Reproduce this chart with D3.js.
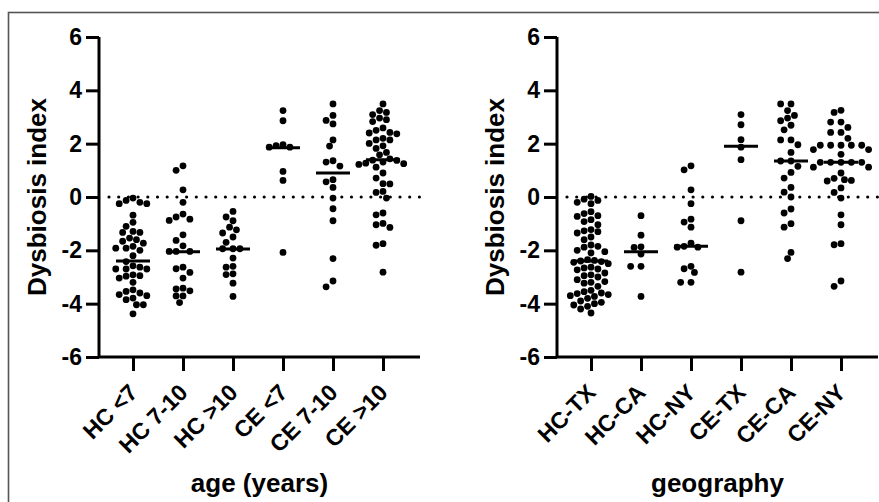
<!DOCTYPE html>
<html lang="en">
<head>
    <meta charset="UTF-8">
    <title>Dysbiosis index</title>
    <style>
        body { margin: 0; background: #fff; }
        svg { display: block; }
        text { font-family: "Liberation Sans", Arial, sans-serif; font-weight: bold; fill: #000; }
    </style>
</head>
<body>
    <div id="chart"></div>
    <script src="https://d3js.org/d3.v7.min.js"></script>
    <script>
        // values, one array per group
        const ageCats = ["HC <7", "HC 7-10", "HC >10", "CE <7", "CE 7-10", "CE >10"];
        const hcUnder7 = [-0.04, -0.25, -0.13, -0.2, -0.25, -0.68, -0.95, -1.1, -1.29, -1.33, -1.33, -1.54, -1.66, -1.6, -1.73, -1.92, -1.92, -1.85, -2.0, -2.2, -2.42, -2.58, -2.7, -2.7, -2.7, -2.63, -2.97, -2.95, -3.04, -2.92, -3.2, -3.48, -3.6, -3.54, -3.7, -3.66, -3.85, -3.79, -4.04, -4.04, -4.38];
        const hc7to10 = [1.17, 1.0, 0.27, -0.2, -0.64, -0.75, -0.83, -0.88, -1.42, -1.63, -1.83, -2.04, -2.04, -2.04, -2.63, -2.69, -2.83, -3.04, -3.42, -3.52, -3.45, -3.71, -3.71, -3.96];
        const hcOver10 = [-0.54, -0.75, -0.89, -1.13, -1.23, -1.35, -1.5, -1.7, -1.94, -1.94, -1.94, -2.29, -2.6, -2.63, -2.88, -2.91, -3.23, -3.73];
        const ceUnder7 = [3.24, 2.86, 1.96, 1.87, 1.93, 1.87, 0.96, 0.62, -2.08];
        const ce7to10 = [3.49, 3.06, 2.74, 2.87, 2.14, 1.91, 1.31, 1.36, 1.16, 0.57, 0.65, 0.36, -0.04, -0.44, -0.89, -2.31, -3.37, -3.15];
        const ceOver10 = [3.49, 3.24, 3.17, 3.09, 2.96, 2.9, 2.83, 2.59, 2.5, 2.42, 2.4, 2.37, 2.2, 2.14, 2.14, 2.01, 1.92, 1.82, 1.67, 1.58, 1.43, 1.38, 1.37, 1.31, 1.27, 1.25, 1.22, 1.12, 0.9, 0.71, 0.5, 0.49, 0.21, 0.17, -0.04, -0.6, -0.67, -0.99, -1.04, -1.14, -1.75, -1.81, -2.82];
        const ageMedians = [-2.4, -2.05, -1.95, 1.85, 0.9, 1.4];

        const geoCats = ["HC-TX", "HC-CA", "HC-NY", "CE-TX", "CE-CA", "CE-NY"];
        const hcTX = [0.02, -0.08, -0.13, -0.2, -0.25, -0.55, -0.62, -0.7, -0.73, -0.85, -0.92, -1.04, -1.22, -1.27, -1.3, -1.35, -1.5, -1.6, -1.8, -1.85, -1.88, -2.0, -2.05, -2.1, -2.35, -2.38, -2.4, -2.42, -2.45, -2.5, -2.63, -2.66, -2.7, -2.73, -2.85, -2.92, -2.95, -3.0, -3.1, -3.17, -3.2, -3.23, -3.35, -3.5, -3.55, -3.6, -3.62, -3.66, -3.7, -3.73, -3.8, -3.9, -3.95, -4.0, -4.05, -4.1, -4.2, -4.35];
        const hcCA = [-0.7, -1.43, -1.89, -1.87, -2.14, -2.6, -2.6, -3.73];
        const hcNY = [1.17, 1.02, 0.27, -0.25, -0.83, -0.94, -1.13, -1.73, -1.85, -1.88, -1.88, -2.6, -2.69, -2.83, -3.2, -3.2];
        const ceTX = [3.09, 2.71, 2.15, 1.87, 1.4, -0.89, -2.82];
        const ceCA = [3.49, 3.49, 3.24, 3.06, 2.96, 2.69, 2.86, 2.52, 2.14, 2.14, 1.96, 1.67, 1.35, 1.35, 1.15, 0.92, 0.71, 0.36, 0.18, 0, -0.45, -0.6, -1.0, -1.13, -2.08, -2.31];
        const ceNY = [3.25, 3.17, 2.81, 2.81, 2.61, 2.42, 2.42, 2.2, 1.94, 1.94, 1.94, 1.94, 1.94, 1.78, 1.78, 1.6, 1.3, 1.3, 1.3, 1.3, 1.3, 1.12, 1.12, 0.9, 0.7, 0.6, 0.65, 0.62, 0.34, 0.17, -0.04, -0.67, -1.04, -1.79, -1.75, -3.35, -3.15];
        const geoMedians = [-2.4, -2.05, -1.85, 1.9, 1.35, 1.3];

        const yTicks = [-6, -4, -2, 0, 2, 4, 6];

        const width = 879, height = 502;
        const svg = d3.select("#chart").append("svg")
            .attr("width", width)
            .attr("height", height);

        // outer frame (runs off the right and bottom edges)
        svg.append("rect")
            .attr("x", 8.5).attr("y", 12.5)
            .attr("width", 1000).attr("height", 1000)
            .attr("fill", "none")
            .attr("stroke", "#555")
            .attr("stroke-width", 1.6);

        const y = d3.scaleLinear().domain([-6, 6]).range([357, 37]);
        const r = 3.4;

        // simple beeswarm, offsets in half-diameter steps
        function swarm(vals, cx) {
            const d = 2 * r + 0.1;
            const placed = [];
            vals.slice().sort((a, b) => b - a).forEach(v => {
                const py = y(v);
                for (let k = 0; k < 40; k++) {
                    const off = (k % 2 === 0 ? 1 : -1) * Math.ceil(k / 2) * d / 2;
                    const px = cx + off;
                    const hit = placed.some(p => (p.x - px) ** 2 + (p.y - py) ** 2 < d * d);
                    if (!hit) { placed.push({ x: px, y: py }); break; }
                }
            });
            return placed;
        }

        function drawPanel(x0, cats, groups, medians, title) {
            const x1 = x0 + 321;
            const x = d3.scalePoint().domain(cats).range([x0 + 34, x0 + 284]);
            const g = svg.append("g");

            // zero reference line
            g.append("line")
                .attr("x1", x0 + 10).attr("x2", x1)
                .attr("y1", y(0)).attr("y2", y(0))
                .attr("stroke", "#000")
                .attr("stroke-width", 3.2)
                .attr("stroke-linecap", "round")
                .attr("stroke-dasharray", "0 9.7");

            // y axis
            const yAxis = g.append("g")
                .attr("transform", `translate(${x0},0)`)
                .call(d3.axisLeft(y).tickValues(yTicks).tickSize(13).tickPadding(4).tickFormat(d => String(d)));
            yAxis.select(".domain").attr("d", `M0,${y(6)}V${y(-6)}`);

            // x axis
            const xAxis = g.append("g")
                .attr("transform", `translate(0,${y(-6)})`)
                .call(d3.axisBottom(x).tickSize(14).tickFormat(""));
            xAxis.select(".domain").attr("d", `M${x0},0H${x1}`);

            g.selectAll(".domain, .tick line")
                .attr("stroke", "#000")
                .attr("stroke-width", 3);
            yAxis.selectAll(".tick text")
                .attr("font-size", 23)
                .attr("font-family", "Liberation Sans, Arial, sans-serif")
                .attr("font-weight", "bold");

            // rotated category labels
            g.selectAll(".cat")
                .data(cats)
                .enter().append("text")
                .attr("class", "cat")
                .attr("text-anchor", "end")
                .attr("font-size", 23)
                .attr("transform", d => `translate(${x(d) + 6},${y(-6) + 37}) rotate(-45)`)
                .text(d => d);

            // dots
            groups.forEach((vals, i) => {
                g.append("g").selectAll("circle")
                    .data(swarm(vals, x(cats[i])))
                    .enter().append("circle")
                    .attr("cx", d => d.x)
                    .attr("cy", d => d.y)
                    .attr("r", r)
                    .attr("fill", "#000");
            });

            // median bars
            g.selectAll(".median")
                .data(medians)
                .enter().append("line")
                .attr("class", "median")
                .attr("x1", (d, i) => x(cats[i]) - 17)
                .attr("x2", (d, i) => x(cats[i]) + 17)
                .attr("y1", d => y(d))
                .attr("y2", d => y(d))
                .attr("stroke", "#000")
                .attr("stroke-width", 3);

            // axis titles
            g.append("text")
                .attr("text-anchor", "middle")
                .attr("font-size", 26)
                .attr("transform", `translate(${x0 - 53},${(y(6) + y(-6)) / 2}) rotate(-90)`)
                .text("Dysbiosis index");

            g.append("text")
                .attr("text-anchor", "middle")
                .attr("font-size", 26)
                .attr("x", (x0 + x1) / 2)
                .attr("y", 492)
                .text(title);
        }

        drawPanel(99, ageCats, [hcUnder7, hc7to10, hcOver10, ceUnder7, ce7to10, ceOver10], ageMedians, "age (years)");
        drawPanel(557, geoCats, [hcTX, hcCA, hcNY, ceTX, ceCA, ceNY], geoMedians, "geography");
    </script>
</body>
</html>
